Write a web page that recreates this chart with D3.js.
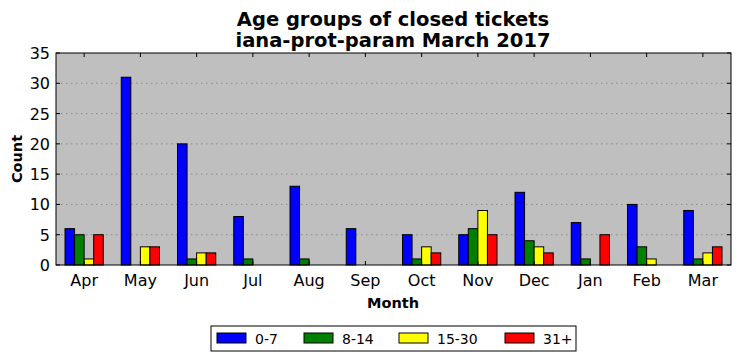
<!DOCTYPE html>
<html>
<head>
<meta charset="utf-8">
<script src="https://cdn.jsdelivr.net/npm/d3@7"></script>
<style>
  body { margin: 0; background: #fff; }
  svg text { font-family: "DejaVu Sans", sans-serif; }
</style>
</head>
<body>
<div id="chart"></div>
<script>
// chart values
var months = ["Apr","May","Jun","Jul","Aug","Sep","Oct","Nov","Dec","Jan","Feb","Mar"];
var groups = ["0-7","8-14","15-30","31+"];
var colors = ["#0000ff","#008000","#ffff00","#ff0000"];
var age0_7   = [6,31,20,8,13,6,5,5,12,7,10,9];
var age8_14  = [5,0,1,1,1,0,1,6,4,1,3,1];
var age15_30 = [1,3,2,0,0,0,3,9,3,0,1,2];
var age31    = [5,3,2,0,0,0,2,5,2,5,0,3];
var yTicks = [0,5,10,15,20,25,30,35];

var series = [age0_7, age8_14, age15_30, age31];

var W = 741, H = 361;
var m = {left: 56, right: 10, top: 53, bottom: 96};
var pw = W - m.left - m.right, ph = H - m.top - m.bottom;

var svg = d3.select("#chart").append("svg")
    .attr("width", W).attr("height", H);

var x = d3.scaleLinear().domain([-0.5, 11.5]).range([0, pw]);
var y = d3.scaleLinear().domain([0, 35]).range([ph, 0]);
var bw = 0.17;

var g = svg.append("g").attr("transform", "translate(" + m.left + "," + m.top + ")");

g.append("rect").attr("width", pw).attr("height", ph).attr("fill", "#bfbfbf");

// dotted grid
g.selectAll("line.grid")
    .data(yTicks.slice(1, -1))
    .join("line")
    .attr("class", "grid")
    .attr("x1", 0).attr("x2", pw)
    .attr("y1", d => y(d)).attr("y2", d => y(d))
    .attr("stroke", "#8a8a8a").attr("stroke-width", 1)
    .attr("stroke-dasharray", "1.5,3.5");

// bars
series.forEach(function(vals, k){
    g.selectAll("rect.s" + k)
        .data(vals)
        .join("rect")
        .attr("class", "s" + k)
        .attr("x", (d, i) => x(i - 2 * bw + k * bw))
        .attr("width", x(bw) - x(0))
        .attr("y", d => y(d))
        .attr("height", d => y(0) - y(d))
        .attr("fill", colors[k])
        .attr("stroke", "#000").attr("stroke-width", 1);
});

// ticks, inward on all sides
var tl = 4;
months.forEach(function(mo, i){
    g.append("line").attr("x1", x(i)).attr("x2", x(i)).attr("y1", ph).attr("y2", ph - tl).attr("stroke", "#000");
    g.append("line").attr("x1", x(i)).attr("x2", x(i)).attr("y1", 0).attr("y2", tl).attr("stroke", "#000");
});
g.selectAll("text.xt")
    .data(months)
    .join("text")
    .attr("class", "xt")
    .attr("x", (d, i) => x(i)).attr("y", ph + 21)
    .attr("text-anchor", "middle").attr("font-size", 16)
    .text(d => d);

yTicks.forEach(function(t){
    g.append("line").attr("x1", 0).attr("x2", tl).attr("y1", y(t)).attr("y2", y(t)).attr("stroke", "#000");
    g.append("line").attr("x1", pw).attr("x2", pw - tl).attr("y1", y(t)).attr("y2", y(t)).attr("stroke", "#000");
});
g.selectAll("text.yt")
    .data(yTicks)
    .join("text")
    .attr("class", "yt")
    .attr("x", -6).attr("y", d => y(d) + 6)
    .attr("text-anchor", "end").attr("font-size", 16)
    .text(d => d);

g.append("rect").attr("width", pw).attr("height", ph)
    .attr("fill", "none").attr("stroke", "#000").attr("stroke-width", 1);

// titles
svg.append("text").attr("x", 393).attr("y", 26).attr("text-anchor", "middle")
    .attr("font-size", 19.5).attr("font-weight", "bold").text("Age groups of closed tickets");
svg.append("text").attr("x", 393).attr("y", 47).attr("text-anchor", "middle")
    .attr("font-size", 19.5).attr("font-weight", "bold").text("iana-prot-param March 2017");
svg.append("text").attr("x", 393).attr("y", 308).attr("text-anchor", "middle")
    .attr("font-size", 14.5).attr("font-weight", "bold").text("Month");
svg.append("text").attr("transform", "translate(22,159) rotate(-90)").attr("text-anchor", "middle")
    .attr("font-size", 14.5).attr("font-weight", "bold").text("Count");

// legend
var lg = svg.append("g").attr("transform", "translate(211,326)");
lg.append("rect").attr("width", 365).attr("height", 25)
    .attr("fill", "#fff").attr("stroke", "#000").attr("stroke-width", 1);
var lx = [6, 93, 188, 294];
groups.forEach(function(name, k){
    lg.append("rect").attr("x", lx[k]).attr("y", 7).attr("width", 29).attr("height", 10)
        .attr("fill", colors[k]).attr("stroke", "#000").attr("stroke-width", 1);
    lg.append("text").attr("x", lx[k] + 38).attr("y", 17.5)
        .attr("font-size", 14).text(name);
});
</script>
</body>
</html>
